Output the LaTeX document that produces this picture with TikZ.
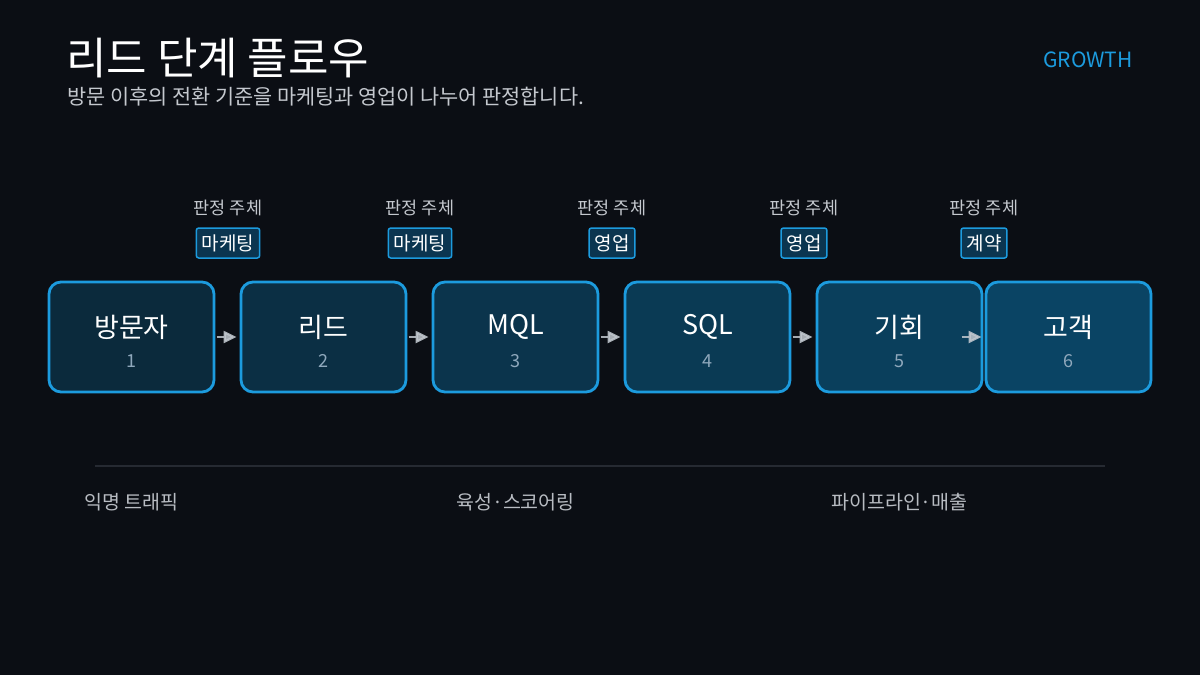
\documentclass[tikz,border=0pt]{standalone}
\usepackage{fontspec}
\setmainfont{Noto Sans CJK KR}
\usetikzlibrary{arrows.meta,positioning}
\definecolor{bg}{HTML}{0B0E14}
\definecolor{edge}{HTML}{1C9BDE}
\definecolor{fillA}{HTML}{0B2A3C}
\definecolor{fillB}{HTML}{0A4464}
\definecolor{numc}{HTML}{8FA8BC}
\definecolor{subc}{HTML}{C4C8CE}
\definecolor{tagfill}{HTML}{0B3550}
\definecolor{arrc}{HTML}{C2C8CF}
\definecolor{sepc}{HTML}{262A32}
\definecolor{botc}{HTML}{B8BCC2}
\tikzset{
  stagebox/.style={draw=edge, line width=2.8pt, rounded corners=12pt, minimum width=165pt, minimum height=110pt, inner sep=0pt},
  tagbox/.style={draw=edge, fill=tagfill, line width=1.5pt, rounded corners=2.5pt, inner xsep=5.5pt, inner ysep=0pt, minimum height=30pt, text=white, font=\fontsize{19}{21}\selectfont},
  ownerlbl/.style={text=subc, font=\fontsize{17.5}{19}\selectfont},
  stagetitle/.style={text=white, font=\fontsize{27}{30}\selectfont},
  stagenum/.style={text=numc, font=\fontsize{18}{20}\selectfont},
  flowarrow/.style={draw=arrc, line width=2.2pt, -{Triangle[length=13pt,width=12pt]}, opacity=0.85},
  bottomlbl/.style={text=botc, font=\fontsize{19.5}{21}\selectfont},
}
\begin{document}
\begin{tikzpicture}[x=1pt,y=-1pt]
\useasboundingbox (0,0) rectangle (1200,675);
\fill[bg] (0,0) rectangle (1200,675);
% header
\node[anchor=base west, text=white, font=\fontsize{44}{48}\selectfont, inner sep=0pt] (title) at (66,74) {리드 단계 플로우};
\node[anchor=base west, text=subc, font=\fontsize{20.8}{23}\selectfont, inner sep=0pt] (subtitle) at (67,104) {방문 이후의 전환 기준을 마케팅과 영업이 나누어 판정합니다.};
\node[anchor=base east, text=edge, font=\fontsize{21}{24}\selectfont, inner sep=0pt] (tag) at (1133,67) {GROWTH};
% stages
\foreach \i/\x/\t/\p in {1/131.5/방문자/0, 2/323.5/리드/20, 3/515.5/MQL/40, 4/707.5/SQL/60, 5/899.5/기회/80, 6/1068.5/고객/100} {
  \node[stagebox, fill=fillB!\p!fillA] (b\i) at (\x,337) {};
  \node[stagetitle] (t\i) at (\x,327) {\t};
  \node[stagenum] (n\i) at (\x,361) {\i};
}
% arrows
\foreach \a/\b in {1/2,2/3,3/4,4/5,5/6} {
  \draw[flowarrow] ([xshift=-23pt]b\b.west) -- ([xshift=-3pt]b\b.west);
}
% owner labels and tags
\foreach \k/\x/\o in {1/228/마케팅, 2/420/마케팅, 3/612/영업, 4/804/영업, 5/984/계약} {
  \node[ownerlbl] (o\k) at (\x,208) {판정 주체};
  \node[tagbox] (g\k) at (\x,243) {\o};
}
% separator
\coordinate (s1) at (95,466);
\coordinate (s2) at (1105,466);
\draw[sepc, line width=2pt] (s1) -- (s2);
% bottom labels
\node[bottomlbl] (l1) at (131.5,502) {익명 트래픽};
\node[bottomlbl] (l2) at (515.5,502) {육성·스코어링};
\node[bottomlbl] (l3) at (899.5,502) {파이프라인·매출};
\end{tikzpicture}
\end{document}
